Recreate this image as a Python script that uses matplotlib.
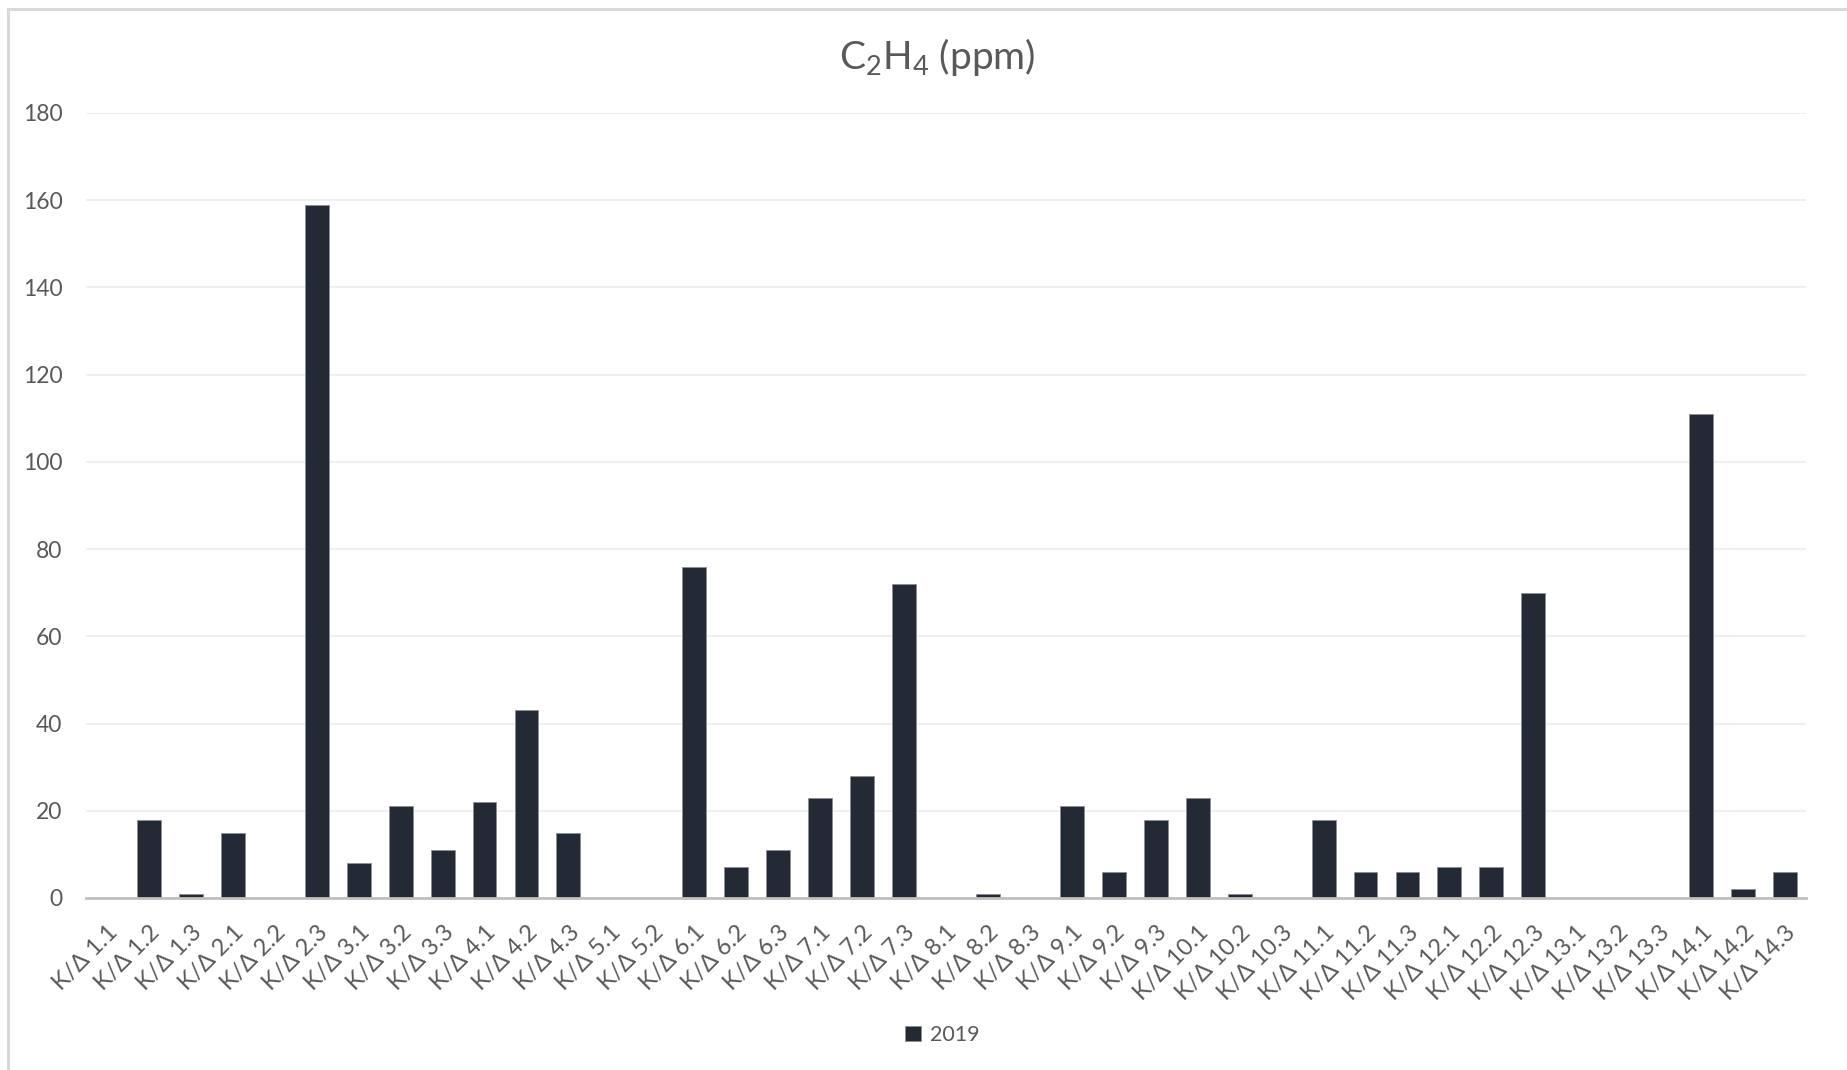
import numpy as np
import matplotlib
matplotlib.use("Agg")
import matplotlib.pyplot as plt
from matplotlib.lines import Line2D

plt.rcParams['font.family'] = ['Lato', 'DejaVu Sans']
plt.rcParams['mathtext.fontset'] = 'custom'
plt.rcParams['mathtext.rm'] = 'Lato'
plt.rcParams['mathtext.default'] = 'regular'

# data (note: there is no K/Δ 5.3)
categories = ['K/Δ 1.1', 'K/Δ 1.2', 'K/Δ 1.3', 'K/Δ 2.1', 'K/Δ 2.2', 'K/Δ 2.3',
              'K/Δ 3.1', 'K/Δ 3.2', 'K/Δ 3.3', 'K/Δ 4.1', 'K/Δ 4.2', 'K/Δ 4.3',
              'K/Δ 5.1', 'K/Δ 5.2', 'K/Δ 6.1', 'K/Δ 6.2', 'K/Δ 6.3',
              'K/Δ 7.1', 'K/Δ 7.2', 'K/Δ 7.3', 'K/Δ 8.1', 'K/Δ 8.2', 'K/Δ 8.3',
              'K/Δ 9.1', 'K/Δ 9.2', 'K/Δ 9.3', 'K/Δ 10.1', 'K/Δ 10.2', 'K/Δ 10.3',
              'K/Δ 11.1', 'K/Δ 11.2', 'K/Δ 11.3', 'K/Δ 12.1', 'K/Δ 12.2', 'K/Δ 12.3',
              'K/Δ 13.1', 'K/Δ 13.2', 'K/Δ 13.3', 'K/Δ 14.1', 'K/Δ 14.2', 'K/Δ 14.3']
values_2019 = [0, 18, 1, 15, 0, 159, 8, 21, 11, 22, 43, 15, 0, 0,
               76, 7, 11, 23, 28, 72, 0, 1, 0, 21, 6, 18, 23, 1, 0,
               18, 6, 6, 7, 7, 70, 0, 0, 0, 111, 2, 6]
series_name = '2019'
yticks = [0, 20, 40, 60, 80, 100, 120, 140, 160, 180]

W, H = 1847, 1070
fig = plt.figure(figsize=(W / 100, H / 100), dpi=100)
ax = fig.add_axes([86 / W, 1 - 898 / H, (1806 - 86) / W, (898 - 113) / H])

bar_col = '#232a35'
txt_col = '#595959'
x = np.arange(len(categories))
ax.bar(x, values_2019, width=0.57, color=bar_col, edgecolor='#8a8f96', linewidth=0.6,
       label=series_name, zorder=3)

ax.set_xlim(-0.5, len(categories) - 0.5)
ax.set_ylim(0, 180)
ax.set_yticks(yticks)
ax.yaxis.grid(True, color='#ececec', linewidth=1.2, zorder=0)
ax.set_axisbelow(True)
for s in ['top', 'right', 'left']:
    ax.spines[s].set_visible(False)
ax.spines['bottom'].set_color('#bfbfbf')
ax.spines['bottom'].set_linewidth(2)
ax.spines['bottom'].set_zorder(4)
ax.tick_params(axis='y', length=0, labelsize=16.5, labelcolor=txt_col, pad=17)
ax.tick_params(axis='x', length=0, labelsize=17, labelcolor=txt_col, pad=17)
ax.set_xticks(x)
ax.set_xticklabels(categories, rotation=45, ha='right', rotation_mode='anchor')
for lbl in ax.get_xticklabels():
    lbl.set_x(lbl.get_position()[0])

fig.text(937 / W, 1 - 57 / H, r'C$_2$H$_4$ (ppm)', ha='center', va='center',
         fontsize=28, color=txt_col)

leg = fig.legend(loc='center', bbox_to_anchor=(942 / W, 1 - 1035 / H), frameon=False,
                 fontsize=15.5, handlelength=0.75, handleheight=0.75, handletextpad=0.4,
                 labelcolor=txt_col)

# chart area border (only top/left visible in the crop)
fig.add_artist(Line2D([8 / W, 8 / W], [0, 1 - 9 / H], color='#d9d9d9', lw=2.2))
fig.add_artist(Line2D([8 / W, 1], [1 - 9 / H, 1 - 9 / H], color='#d9d9d9', lw=2.2))

fig.savefig('out.png', dpi=100)
